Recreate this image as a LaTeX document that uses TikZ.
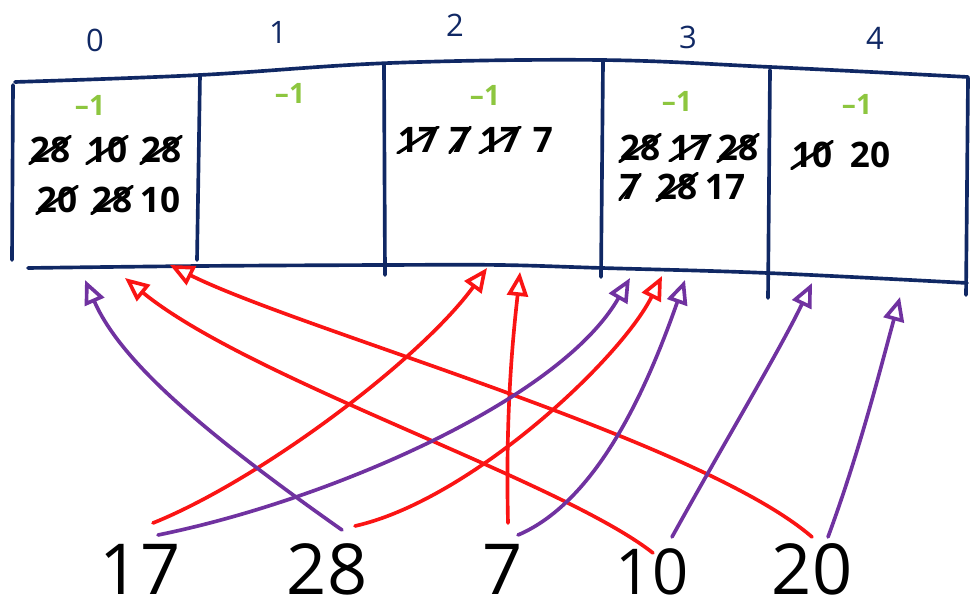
\documentclass[tikz,border=0pt]{standalone}
\usepackage{fontspec}
\setmainfont{Open Sans}
\usetikzlibrary{arrows.meta, calc}
\definecolor{cGrid}{RGB}{16, 40, 100}
\definecolor{cMark}{RGB}{141, 198, 63}
\definecolor{cRed}{RGB}{250, 20, 20}
\definecolor{cPurple}{RGB}{112, 50, 160}

\begin{document}
\begin{tikzpicture}[
    x=0.025cm, y=0.025cm,
    >={Triangle[open, length=6mm, width=5.2mm]},
    line cap=round, line join=round,
    grid/.style={draw=cGrid, line width=2.6pt},
    index/.style={text=cGrid, font=\fontsize{22}{24}\selectfont},
    sentinel/.style={text=cMark, font=\fontsize{20}{22}\selectfont\bfseries},
    entry/.style={font=\fontsize{25}{27}\selectfont\bfseries, inner sep=1pt},
    struck/.style={
        entry,
        path picture={\draw[line width=2.2pt] (path picture bounding box.south west) -- (path picture bounding box.north east);}
    },
    key/.style={font=\fontsize{50}{52}\selectfont, inner sep=0pt},
    arrow/.style={->, line width=2.6pt, draw=#1}
]
\useasboundingbox (0,0) rectangle (970,611);

% Table
\draw[grid] plot[smooth, tension=0.6] coordinates {(15,529) (200,536) (390,548) (600,551) (770,544) (968,534)};
\draw[grid] plot[smooth, tension=0.6] coordinates {(28,343) (200,345) (385,346) (500,346) (602,343) (767,338) (967,328)};
\draw[grid] (13,526) -- (12,351);
\draw[grid] (200,536) -- (197,351);
\draw[grid] (384,546) -- (385,336);
\draw[grid] (603,549) -- (601,334);
\draw[grid] (770,541) -- (768,313);
\draw[grid] (968,533) -- (966,316);

% Bucket indices
\node[index] (i0) at (95,571) {0};
\node[index] (i1) at (278,579) {1};
\node[index] (i2) at (455,586) {2};
\node[index] (i3) at (688,574) {3};
\node[index] (i4) at (875,573) {4};

\node[sentinel] (e0) at (90,506) {--1};
\node[sentinel] (e1) at (290,518) {--1};
\node[sentinel] (e2) at (485,516) {--1};
\node[sentinel] (e3) at (677,510) {--1};
\node[sentinel] (e4) at (857,507) {--1};

% Bucket 0
\node[struck] (c0a) at (50,461) {28};
\node[struck] (c0b) at (107,461) {10};
\node[struck] (c0c) at (161,461) {28};
\node[struck] (c0d) at (57,411) {20};
\node[struck] (c0e) at (112,411) {28};
\node[entry] (c0f) at (160,411) {10};

% Bucket 2
\node[struck] (c2a) at (418,471) {17};
\node[struck] (c2b) at (460,471) {7};
\node[struck] (c2c) at (500,471) {17};
\node[entry] (c2d) at (543,471) {7};

% Bucket 3
\node[struck] (c3a) at (640,463) {28};
\node[struck] (c3b) at (690,463) {17};
\node[struck] (c3c) at (738,463) {28};
\node[struck] (c3d) at (630,424) {7};
\node[struck] (c3e) at (677,424) {28};
\node[entry] (c3f) at (725,424) {17};

% Bucket 4
\node[struck] (c4a) at (812,456) {10};
\node[entry] (c4b) at (870,456) {20};

% Keys
\node[key] (k17) at (140,42) {17};
\node[key] (k28) at (327,42) {28};
\node[key] (k7) at (503,42) {7};
\node[key, font=\fontsize{45}{47}\selectfont] (k10) at (652,39) {10};
\node[key] (k20) at (812,42) {20};

% Arrow targets below the table
\coordinate (b0a) at (85,331);
\coordinate (b0b) at (125,333);
\coordinate (b0c) at (170,346);
\coordinate (b2a) at (487,343);
\coordinate (b2b) at (520,339);
\coordinate (b3a) at (630,333);
\coordinate (b3b) at (662,335);
\coordinate (b3c) at (685,331);
\coordinate (b4a) at (812,328);
\coordinate (b4b) at (900,314);

% First hash (red)
\draw[arrow=cRed] ($(k17.center)+(13,46)$) .. controls (260,131) and (420,251) .. (b2a);
\draw[arrow=cRed] ($(k28.center)+(28,43)$) .. controls (470,111) and (620,251) .. (b3b);
\draw[arrow=cRed] ($(k7.center)+(5,46)$) .. controls (505,211) and (515,291) .. (b2b);
\draw[arrow=cRed] ($(k10.center)+(1,19)$) .. controls (560,131) and (250,231) .. (b0b);
\draw[arrow=cRed] ($(k20.center)+(0,32)$) .. controls (700,171) and (300,281) .. (b0c);

% Second hash (purple)
\draw[arrow=cPurple] ($(k17.center)+(18,34)$) .. controls (330,111) and (560,211) .. (b3a);
\draw[arrow=cPurple] ($(k28.center)+(15,39)$) .. controls (200,181) and (120,251) .. (b0a);
\draw[arrow=cPurple] ($(k7.center)+(15,34)$) .. controls (600,111) and (650,231) .. (b3c);
\draw[arrow=cPurple] ($(k10.center)+(20,35)$) .. controls (720,161) and (780,261) .. (b4a);
\draw[arrow=cPurple] ($(k20.center)+(16,32)$) .. controls (860,161) and (880,241) .. (b4b);

\end{tikzpicture}
\end{document}
